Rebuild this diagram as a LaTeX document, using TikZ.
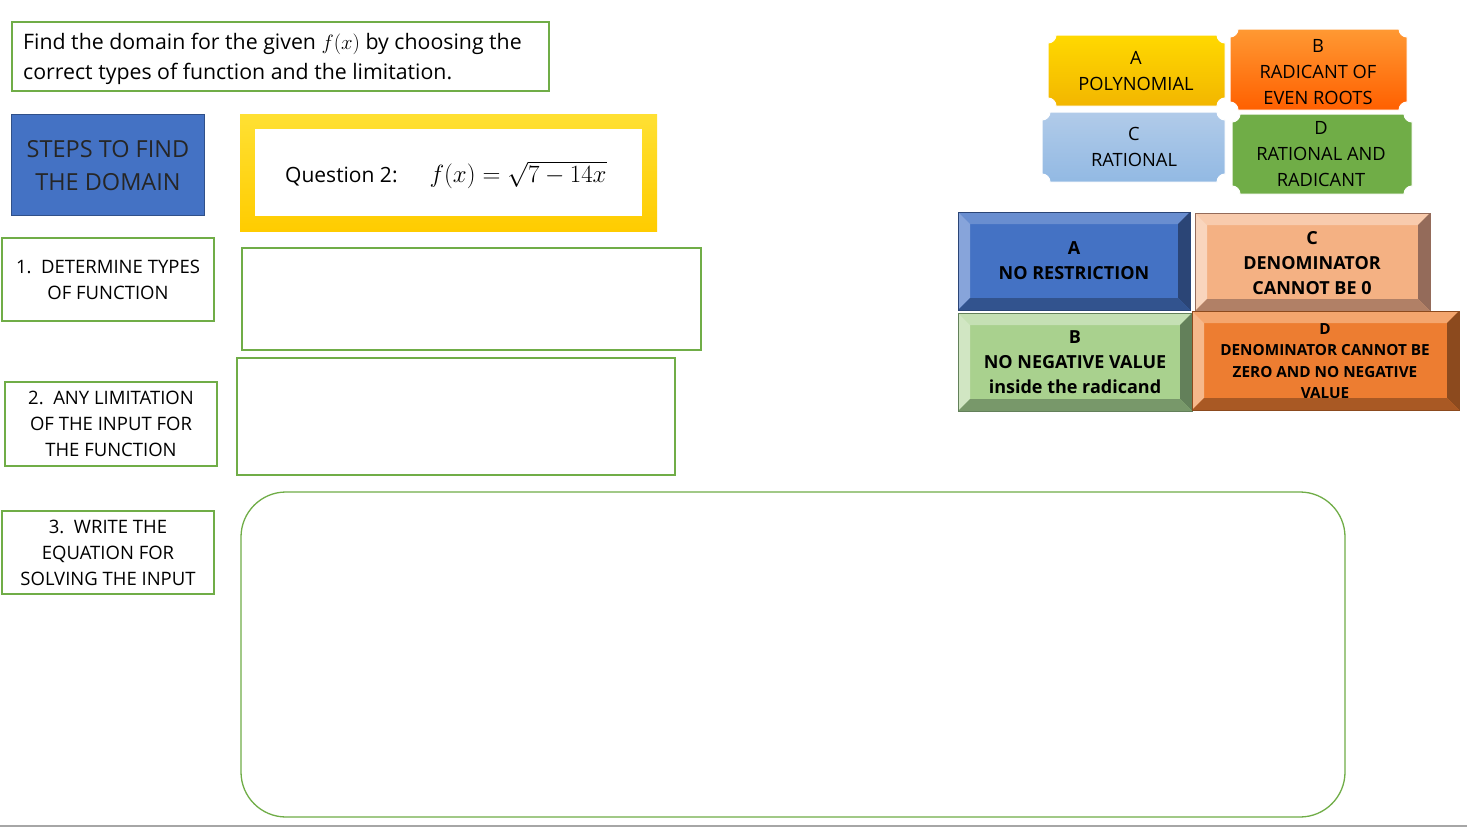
\documentclass[tikz,border=0pt]{standalone}
\usepackage{fontspec}
\setmainfont{Open Sans}
\newcommand{\fs}[1]{\fontsize{#1pt}{\dimexpr #1pt*14/10\relax}\selectfont}
\definecolor{gr}{HTML}{70AD47}
\definecolor{bl}{HTML}{4472C4}
\definecolor{gmain}{HTML}{A9D18E}
\definecolor{glight}{HTML}{C5E0B4}
\definecolor{gdark}{HTML}{63805A}
\definecolor{smain}{HTML}{F4B183}
\definecolor{slight}{HTML}{F8CBAD}
\definecolor{sdark}{HTML}{946B5A}
\definecolor{omain}{HTML}{ED7D31}
\definecolor{olight}{HTML}{F4A66E}
\definecolor{odark}{HTML}{8C4A1E}
\definecolor{bdark}{HTML}{2B4576}
\definecolor{blight}{HTML}{698ED0}
\definecolor{ctop}{HTML}{B1CBE9}
\definecolor{cbot}{HTML}{92B9E3}
\newcommand{\plaque}[6]{% x1 y1 x2 y2 bottomcolor topcolor
 \path[top color=#6,bottom color=#5,draw=white,line width=1pt]
 (#1+8,#2) -- (#3-8,#2) arc[start angle=180,end angle=90,radius=8] -- (#3,#4-8)
 arc[start angle=270,end angle=180,radius=8] -- (#1+8,#4) arc[start angle=0,end angle=-90,radius=8]
 -- (#1,#2+8) arc[start angle=90,end angle=0,radius=8] -- cycle;}
\newcommand{\bevel}[7]{% x1 y1 x2 y2 main light dark
 \fill[#5] (#1,#2) rectangle (#3,#4);
 \fill[#6] (#1,#2) -- (#3,#2) -- (#3-12,#2+12) -- (#1+12,#2+12) -- cycle;
 \fill[#6!80!white] (#1,#2) -- (#1+12,#2+12) -- (#1+12,#4-12) -- (#1,#4) -- cycle;
 \fill[#7] (#3,#2) -- (#3-12,#2+12) -- (#3-12,#4-12) -- (#3,#4) -- cycle;
 \fill[#7!70!#5] (#1,#4) -- (#1+12,#4-12) -- (#3-12,#4-12) -- (#3,#4) -- cycle;
 \draw[#7,line width=0.6pt] (#1,#2) rectangle (#3,#4);}
\begin{document}
\begin{tikzpicture}[x=1pt,y=-1pt,
 gbox/.style={draw=gr,line width=1.3pt},
 lbl/.style={align=center,font=\fs{18.5}}]
\useasboundingbox (0,0) rectangle (1467,827);
\fill[white] (0,0) rectangle (1467,827);
\draw[gray!70,line width=2pt] (0,826) -- (1467,826);
% header
\draw[gbox] (12,22) rectangle (549,91);
\node[anchor=west,align=left,font=\fs{21.3},inner sep=0pt] (hdr) at (23,59) {Find the domain for the given $f(x)$ by choosing the\\correct types of function and the limitation.};
% steps
\draw[fill=bl,draw=bl!70!black,line width=1pt] (11,114) rectangle (204,215);
\node[align=center,font=\fs{23.5},text=black!85] (steps) at (108,166) {STEPS TO FIND\\THE DOMAIN};
% question
\path[top color=yellow!70!orange!80,bottom color=orange!40!yellow] (240,114) rectangle (657,231);
\fill[white] (255,129) rectangle (642,216);
\node[anchor=west,font=\fs{21},inner sep=0pt] (q) at (285,175) {Question 2:\quad\ \ \fontsize{24pt}{28pt}\selectfont$f(x)=\sqrt{7-14x}$};
% step boxes
\draw[gbox] (2,238) rectangle (214,321);
\node[lbl] (s1) at (108,280) {1.\ \ DETERMINE TYPES\\OF FUNCTION};
\draw[gbox] (5,382) rectangle (217,466);
\node[lbl] (s2) at (111,424) {2.\ \ ANY LIMITATION\\OF THE INPUT FOR\\THE FUNCTION};
\draw[gbox] (2,511) rectangle (214,594);
\node[lbl] (s3) at (108,553) {3.\ \ WRITE THE\\EQUATION FOR\\SOLVING THE INPUT};
% answer boxes
\draw[gbox] (242,248) rectangle (701,350);
\draw[gbox] (237,358) rectangle (675,475);
\draw[gbox,rounded corners=45pt] (241,492) rectangle (1345,817);
% plaques
\plaque{1048}{35}{1225}{106}{yellow!50!orange!95!black}{yellow!70!orange}
\node[lbl,font=\fs{18.3}] (pa) at (1136,71) {A\\POLYNOMIAL};
\plaque{1230}{29}{1407}{110}{orange!75!red}{orange!80!white}
\node[lbl,font=\fs{18.3}] (pb) at (1318,72) {B\\RADICANT OF\\EVEN ROOTS};
\plaque{1042}{112}{1225}{182}{cbot}{ctop}
\node[lbl,font=\fs{18.3}] (pc) at (1134,147) {C\\RATIONAL};
\plaque{1232}{114}{1412}{194}{gr}{gr}
\node[lbl,font=\fs{18.3}] (pd) at (1321,154) {D\\RATIONAL AND\\RADICANT};
% bevel boxes
\bevel{958}{212}{1190}{310}{bl}{blight}{bdark}
\node[lbl,font=\bfseries\fs{18}] (ba) at (1074,261) {A\\NO RESTRICTION};
\bevel{1195}{213}{1430}{311}{smain}{slight}{sdark}
\node[lbl,font=\bfseries\fs{18}] (bc) at (1312,263) {C\\DENOMINATOR\\CANNOT BE 0};
\bevel{958}{313}{1192}{411}{gmain}{glight}{gdark}
\node[lbl,font=\bfseries\fs{18}] (bb) at (1075,362) {B\\NO NEGATIVE VALUE\\inside the radicand};
\bevel{1192}{311}{1459}{410}{omain}{olight}{odark}
\node[lbl,font=\bfseries\fs{15.3}] (bd) at (1325,361) {D\\DENOMINATOR CANNOT BE\\ZERO AND NO NEGATIVE\\VALUE};
\end{tikzpicture}
\end{document}
